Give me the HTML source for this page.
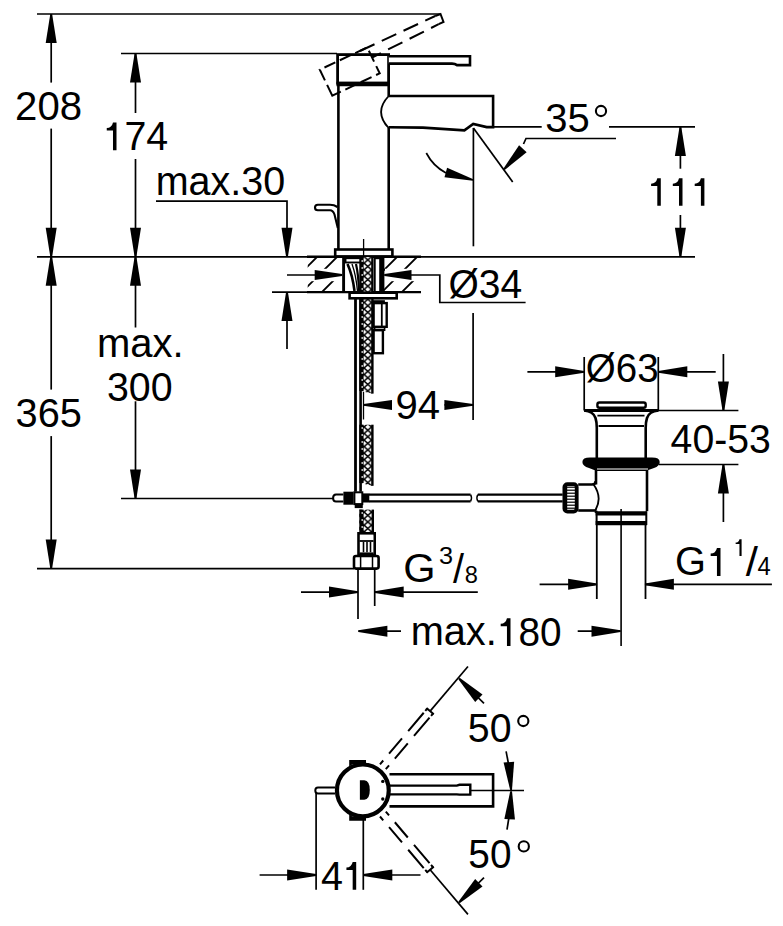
<!DOCTYPE html>
<html><head><meta charset="utf-8"><style>
html,body{margin:0;padding:0;background:#fff;}
svg{display:block;}
text{font-family:"Liberation Sans",sans-serif;fill:#000;stroke:none;}
</style></head><body>
<svg width="783" height="926" viewBox="0 0 783 926" stroke="#000" fill="none">
<defs>
<pattern id="braid" x="363.95" y="263.2" width="7.7" height="6.55" patternUnits="userSpaceOnUse">
<rect width="7.7" height="6.55" fill="#fff" stroke="none"/>
<path d="M-1,-0.85 L8.7,7.4 M8.7,-0.85 L-1,7.4" stroke="#000" stroke-width="1.6"/>
</pattern>
</defs>
<line x1="37" y1="14" x2="440" y2="14" stroke-width="1.7" />
<line x1="121" y1="53.5" x2="337" y2="53.5" stroke-width="1.7" />
<line x1="37" y1="256.8" x2="695" y2="256.8" stroke-width="1.7" />
<line x1="121" y1="498.5" x2="333" y2="498.5" stroke-width="1.7" />
<line x1="37" y1="568.6" x2="354" y2="568.6" stroke-width="1.7" />
<line x1="51.2" y1="14" x2="51.2" y2="82.6" stroke-width="1.7" />
<line x1="51.2" y1="128.6" x2="51.2" y2="256.8" stroke-width="1.7" />
<polygon points="52.1,14 56.7,43 45.7,43 50.3,14" fill="#000" stroke="none"/>
<polygon points="50.3,256.8 45.7,227.8 56.7,227.8 52.1,256.8" fill="#000" stroke="none"/>
<line x1="135.5" y1="53.5" x2="135.5" y2="113" stroke-width="1.7" />
<line x1="135.5" y1="159" x2="135.5" y2="256.8" stroke-width="1.7" />
<polygon points="136.4,53.5 141,82.5 130,82.5 134.6,53.5" fill="#000" stroke="none"/>
<polygon points="134.6,256.8 130,227.8 141,227.8 136.4,256.8" fill="#000" stroke="none"/>
<line x1="51.2" y1="256.8" x2="51.2" y2="389.6" stroke-width="1.7" />
<line x1="51.2" y1="436.1" x2="51.2" y2="568.6" stroke-width="1.7" />
<polygon points="52.1,256.8 56.7,285.8 45.7,285.8 50.3,256.8" fill="#000" stroke="none"/>
<polygon points="50.3,568.6 45.7,539.6 56.7,539.6 52.1,568.6" fill="#000" stroke="none"/>
<line x1="135.5" y1="256.8" x2="135.5" y2="327.5" stroke-width="1.7" />
<line x1="135.5" y1="401.3" x2="135.5" y2="498.5" stroke-width="1.7" />
<polygon points="136.4,256.8 141,285.8 130,285.8 134.6,256.8" fill="#000" stroke="none"/>
<polygon points="134.6,498.5 130,469.5 141,469.5 136.4,498.5" fill="#000" stroke="none"/>
<path d="M156,201.1 H287 V256.8" stroke-width="1.7" fill="none" />
<polygon points="286.1,256.8 281.5,227.8 292.5,227.8 287.9,256.8" fill="#000" stroke="none"/>
<line x1="272" y1="292.1" x2="307" y2="292.1" stroke-width="1.7" />
<line x1="287" y1="292.1" x2="287" y2="349" stroke-width="1.7" />
<polygon points="287.9,292.1 292.5,321.1 281.5,321.1 286.1,292.1" fill="#000" stroke="none"/>
<text x="15.08" y="119.62" font-size="40" textLength="66.96" lengthAdjust="spacingAndGlyphs">208</text>
<text x="124.38" y="150.21" font-size="40" textLength="43.77" lengthAdjust="spacingAndGlyphs">74</text>
<path d="M112.99,122.6 H116.5 V150.3 H112.99 V130.53 H106.76 V128.12 Q111.78,128.02 112.99,122.6 Z" fill="#000" stroke="none"/>
<text x="155.68" y="194.87" font-size="40" textLength="129.57" lengthAdjust="spacingAndGlyphs">max.30</text>
<text x="15.58" y="427.37" font-size="40" textLength="66.39" lengthAdjust="spacingAndGlyphs">365</text>
<text x="96.94" y="356.52" font-size="40" textLength="86.71" lengthAdjust="spacingAndGlyphs">max.</text>
<text x="107" y="401.02" font-size="40" textLength="65.63" lengthAdjust="spacingAndGlyphs">300</text>
<text x="545.18" y="132.12" font-size="40" textLength="44.5" lengthAdjust="spacingAndGlyphs">35</text>
<circle cx="601" cy="111" r="5.1" stroke-width="2.1" fill="none"/>
<line x1="493" y1="126.9" x2="541.7" y2="126.9" stroke-width="1.7" />
<line x1="609" y1="126.9" x2="695" y2="126.9" stroke-width="1.7" />
<path d="M657.3,178.2 H660.8 V205.8 H657.3 V186.1 H651.1 V183.7 Q656.1,183.6 657.3,178.2 Z" fill="#000" stroke="none"/>
<path d="M679,178.2 H682.5 V205.8 H679 V186.1 H672.8 V183.7 Q677.8,183.6 679,178.2 Z" fill="#000" stroke="none"/>
<path d="M700.9,178.2 H704.4 V205.8 H700.9 V186.1 H694.7 V183.7 Q699.7,183.6 700.9,178.2 Z" fill="#000" stroke="none"/>
<line x1="680.4" y1="126.9" x2="680.4" y2="168.7" stroke-width="1.7" />
<line x1="680.4" y1="215" x2="680.4" y2="256.8" stroke-width="1.7" />
<polygon points="681.3,126.9 685.9,155.9 674.9,155.9 679.5,126.9" fill="#000" stroke="none"/>
<polygon points="679.5,256.8 674.9,227.8 685.9,227.8 681.3,256.8" fill="#000" stroke="none"/>
<rect x="337.6" y="54.6" width="51" height="28.6" stroke-width="2.8" fill="none"/>
<line x1="336.5" y1="84" x2="389.8" y2="84" stroke-width="4.4" />
<path d="M388.8,56.3 H470 V65.1 H457 Q455,63.6 452,63.6 H388.8" stroke-width="2.6" fill="#fff" />
<g stroke-dasharray="12,5" fill="none" stroke-width="2">
<path d="M332.3,95.7 L319.8,69.7 L367.2,47.4 L379.7,73.3 Z" stroke-width="2" fill="none" />
<path d="M360,51 L435.2,16" stroke-width="2" stroke-dasharray="16,8"/>
<path d="M372,57.5 L438.7,24.2" stroke-width="2" stroke-dasharray="16,8" stroke-dashoffset="6"/>
</g>
<path d="M435.2,16 L440.5,14 L443.5,22 L438.7,24.2" stroke-width="2" fill="none" />
<line x1="338.4" y1="84" x2="338.4" y2="250" stroke-width="2.6" />
<line x1="388.7" y1="84" x2="388.7" y2="96" stroke-width="2.6" />
<line x1="388.7" y1="128" x2="388.7" y2="250" stroke-width="2.6" />
<path d="M388.7,96 H493.1 V127.1 H486.7 L473.2,123.9 L464.4,130.3 L422.9,127.6 L388.7,127.3" stroke-width="2.6" fill="none" />
<path d="M388.7,96 Q373.5,112 388.7,128" stroke-width="1.8" fill="none" />
<line x1="493" y1="126.9" x2="493" y2="127" stroke-width="1.7" />
<line x1="473.4" y1="128" x2="473.4" y2="246.3" stroke-width="1.7" />
<line x1="473.4" y1="128" x2="512.7" y2="182" stroke-width="1.7" />
<path d="M426.3,153 Q433,166 446,173" stroke-width="1.7" fill="none" />
<polygon points="472.86,180.87 444.51,177.23 447.11,167.78 473.34,179.13" fill="#000" stroke="none"/>
<path d="M616,138.5 H526 L523.5,144" stroke-width="1.7" fill="none" />
<polygon points="503.33,168.79 519.1,145.27 526.63,152.15 504.67,170.01" fill="#000" stroke="none"/>
<path d="M337.5,207 Q334,204.7 330,204.7 H317.8 A2.8,2.8 0 0 0 317.8,210.3 H330 Q333,210.3 334.5,214.5 L337.8,228" stroke-width="2.1" fill="none" />
<rect x="335.2" y="249.5" width="57.2" height="7" stroke-width="2.6" fill="none" />
<line x1="363.6" y1="239" x2="363.6" y2="257" stroke-width="1.3" />
<line x1="307" y1="256.8" x2="421" y2="256.8" stroke-width="2.4" />
<line x1="307" y1="292.1" x2="421" y2="292.1" stroke-width="2.4" />
<clipPath id="hl"><rect x="307.7" y="257" width="35.5" height="35"/></clipPath>
<clipPath id="hr"><rect x="384" y="257" width="37" height="35"/></clipPath>
<g clip-path="url(#hl)">
<line x1="274" y1="300" x2="324" y2="250" stroke-width="1.9" />
<line x1="294" y1="300" x2="344" y2="250" stroke-width="1.9" />
<line x1="314" y1="300" x2="364" y2="250" stroke-width="1.9" />
</g>
<g clip-path="url(#hr)">
<line x1="354" y1="300" x2="404" y2="250" stroke-width="1.9" />
<line x1="374" y1="300" x2="424" y2="250" stroke-width="1.9" />
<line x1="394" y1="300" x2="444" y2="250" stroke-width="1.9" />
</g>
<rect x="306" y="268.8" width="37" height="12.4" fill="#fff" stroke="none"/>
<rect x="385" y="268.8" width="36" height="12.4" fill="#fff" stroke="none"/>
<line x1="287" y1="275" x2="342.1" y2="275" stroke-width="1.7" />
<polygon points="342.1,275.9 314.7,280 314.7,270 342.1,274.1" fill="#000" stroke="none"/>
<path d="M384.4,275 H439.8 V302.5 H525.6" stroke-width="1.7" fill="none" />
<polygon points="384.4,274.1 411.5,270 411.5,280 384.4,275.9" fill="#000" stroke="none"/>
<text x="448.45" y="297.85" font-size="40" textLength="73.69" lengthAdjust="spacingAndGlyphs">Ø34</text>
<line x1="343.6" y1="257" x2="343.6" y2="292" stroke-width="2.9" />
<line x1="382.8" y1="257" x2="382.8" y2="292" stroke-width="3.2" />
<rect x="345.5" y="258.2" width="16" height="4.3" stroke-width="1.9" fill="none" />
<path d="M347.5,264 Q352.5,275 354.5,291" stroke-width="2.6" fill="none" />
<path d="M352,264 Q356,275 357.5,291" stroke-width="1.3" fill="none" />
<path d="M356,264 Q358.5,275 359,291" stroke-width="2.2" fill="none" />
<rect x="374.8" y="258.3" width="6.5" height="34" stroke-width="1.8" fill="none" />
<line x1="380.5" y1="258" x2="380.5" y2="292" stroke-width="2.6" />
<line x1="355.5" y1="299" x2="355.5" y2="491.7" stroke-width="2.8" />
<line x1="360.6" y1="299" x2="360.6" y2="491.7" stroke-width="2.6" />
<line x1="363.5" y1="391" x2="363.5" y2="419.5" stroke-width="1.3" />
<path d="M360,257 H372.4 V393.6 L360,391 Z" fill="url(#braid)" stroke="none"/>
<line x1="361.45" y1="257" x2="361.45" y2="391" stroke-width="4.3" />
<line x1="372.4" y1="257" x2="372.4" y2="393.6" stroke-width="2.4" />
<rect x="361.6" y="260" width="1.1" height="2" fill="#fff" stroke="none"/>
<rect x="361.6" y="267" width="1.1" height="2" fill="#fff" stroke="none"/>
<rect x="361.6" y="274" width="1.1" height="2" fill="#fff" stroke="none"/>
<rect x="361.6" y="281" width="1.1" height="2" fill="#fff" stroke="none"/>
<rect x="361.6" y="288" width="1.1" height="2" fill="#fff" stroke="none"/>
<rect x="361.6" y="295" width="1.1" height="2" fill="#fff" stroke="none"/>
<rect x="361.6" y="302" width="1.1" height="2" fill="#fff" stroke="none"/>
<rect x="361.6" y="309" width="1.1" height="2" fill="#fff" stroke="none"/>
<rect x="361.6" y="316" width="1.1" height="2" fill="#fff" stroke="none"/>
<rect x="361.6" y="323" width="1.1" height="2" fill="#fff" stroke="none"/>
<rect x="361.6" y="330" width="1.1" height="2" fill="#fff" stroke="none"/>
<rect x="361.6" y="337" width="1.1" height="2" fill="#fff" stroke="none"/>
<rect x="361.6" y="344" width="1.1" height="2" fill="#fff" stroke="none"/>
<rect x="361.6" y="351" width="1.1" height="2" fill="#fff" stroke="none"/>
<rect x="361.6" y="358" width="1.1" height="2" fill="#fff" stroke="none"/>
<rect x="361.6" y="365" width="1.1" height="2" fill="#fff" stroke="none"/>
<rect x="361.6" y="372" width="1.1" height="2" fill="#fff" stroke="none"/>
<rect x="361.6" y="379" width="1.1" height="2" fill="#fff" stroke="none"/>
<rect x="361.6" y="386" width="1.1" height="2" fill="#fff" stroke="none"/>
<path d="M360,424.7 H372.4 V485.8 L360,483 Z" fill="url(#braid)" stroke="none"/>
<line x1="361.45" y1="424.7" x2="361.45" y2="483" stroke-width="4.3" />
<line x1="372.4" y1="424.7" x2="372.4" y2="485.8" stroke-width="2.4" />
<rect x="361.6" y="427" width="1.1" height="2" fill="#fff" stroke="none"/>
<rect x="361.6" y="434" width="1.1" height="2" fill="#fff" stroke="none"/>
<rect x="361.6" y="441" width="1.1" height="2" fill="#fff" stroke="none"/>
<rect x="361.6" y="448" width="1.1" height="2" fill="#fff" stroke="none"/>
<rect x="361.6" y="455" width="1.1" height="2" fill="#fff" stroke="none"/>
<rect x="361.6" y="462" width="1.1" height="2" fill="#fff" stroke="none"/>
<rect x="361.6" y="469" width="1.1" height="2" fill="#fff" stroke="none"/>
<rect x="361.6" y="476" width="1.1" height="2" fill="#fff" stroke="none"/>
<path d="M359.3,509.6 H372.8 V533.3 L359.3,533.3 Z" fill="url(#braid)" stroke="none"/>
<line x1="361.45" y1="509.6" x2="361.45" y2="533.3" stroke-width="4.3" />
<line x1="372.8" y1="509.6" x2="372.8" y2="533.3" stroke-width="2.4" />
<rect x="361.6" y="512" width="1.1" height="2" fill="#fff" stroke="none"/>
<rect x="361.6" y="519" width="1.1" height="2" fill="#fff" stroke="none"/>
<rect x="361.6" y="526" width="1.1" height="2" fill="#fff" stroke="none"/>
<rect x="349.6" y="292.7" width="47.1" height="5.6" stroke-width="2.6" fill="#fff" />
<rect x="373.6" y="301.1" width="10.4" height="2" stroke-width="1.8" fill="none" />
<rect x="373.6" y="303.1" width="13.1" height="23.7" stroke-width="2.4" fill="none" />
<line x1="381.8" y1="303.1" x2="381.8" y2="326.8" stroke-width="1.8" />
<rect x="374.6" y="327.5" width="10" height="2.7" stroke-width="1.6" fill="none" />
<rect x="373.6" y="330.2" width="9.3" height="23" stroke-width="2.4" fill="none" />
<line x1="473.1" y1="313" x2="473.1" y2="420" stroke-width="1.7" />
<line x1="363.5" y1="404.9" x2="392" y2="404.9" stroke-width="1.7" />
<line x1="444.4" y1="404.9" x2="473.1" y2="404.9" stroke-width="1.7" />
<polygon points="363.5,404 392,399.9 392,409.9 363.5,405.8" fill="#000" stroke="none"/>
<polygon points="473.1,405.8 444.4,409.9 444.4,399.9 473.1,404" fill="#000" stroke="none"/>
<text x="395.42" y="419.32" font-size="40" textLength="44.55" lengthAdjust="spacingAndGlyphs">94</text>
<path d="M343.4,494.4 H336 Q333.1,494.4 333.1,498 Q333.1,501.5 336,501.5 H343.4" stroke-width="2.0" fill="none" />
<rect x="343.4" y="491.7" width="10.2" height="13" stroke-width="0" fill="#000" stroke="none"/>
<rect x="354.4" y="492.3" width="7.9" height="11.8" stroke-width="2.0" fill="none" />
<rect x="362.3" y="493.4" width="7" height="9.1" stroke-width="0" fill="#000" stroke="none"/>
<rect x="355.5" y="504.7" width="6.5" height="2.6" stroke-width="1.6" fill="#000" />
<line x1="369" y1="494.6" x2="470.6" y2="494.6" stroke-width="2.2" />
<line x1="369" y1="501.4" x2="470.6" y2="501.4" stroke-width="2.2" />
<line x1="477.8" y1="494.6" x2="562.7" y2="494.6" stroke-width="2.2" />
<line x1="477.8" y1="501.4" x2="562.7" y2="501.4" stroke-width="2.2" />
<path d="M470.6,494.6 Q472.5,498 470.6,501.4" stroke-width="1.4" fill="none" />
<path d="M477.8,494.6 Q475.9,498 477.8,501.4" stroke-width="1.4" fill="none" />
<rect x="358.5" y="533.3" width="16.2" height="21.7" stroke-width="2.6" fill="none" />
<rect x="360" y="535.5" width="13.2" height="4.9" stroke-width="0" fill="#fff" stroke="none"/>
<line x1="359.5" y1="541" x2="373.5" y2="541" stroke-width="1.8" />
<line x1="363.5" y1="542" x2="363.5" y2="552.2" stroke-width="1.6" />
<line x1="367" y1="542" x2="367" y2="552.2" stroke-width="1.6" />
<line x1="370.5" y1="542" x2="370.5" y2="552.2" stroke-width="1.6" />
<line x1="359.5" y1="553.5" x2="373.5" y2="553.5" stroke-width="2.2" />
<rect x="354" y="556" width="24.6" height="12.6" rx="2" stroke-width="2.6" fill="none"/>
<line x1="360.6" y1="556" x2="360.6" y2="568.6" stroke-width="1.5" />
<line x1="372.5" y1="556" x2="372.5" y2="568.6" stroke-width="1.5" />
<line x1="358" y1="568.6" x2="358" y2="619" stroke-width="1.7" />
<line x1="374.7" y1="568.6" x2="374.7" y2="606" stroke-width="1.7" />
<line x1="301" y1="592.1" x2="358" y2="592.1" stroke-width="1.7" />
<line x1="374.7" y1="592.1" x2="477.8" y2="592.1" stroke-width="1.7" />
<polygon points="358,593 329,597.6 329,586.6 358,591.2" fill="#000" stroke="none"/>
<polygon points="374.7,591.2 403.7,586.6 403.7,597.6 374.7,593" fill="#000" stroke="none"/>
<text x="403.21" y="582.32" font-size="40" textLength="32.29" lengthAdjust="spacingAndGlyphs">G</text>
<text x="439.04" y="563.78" font-size="24.5" textLength="14.08" lengthAdjust="spacingAndGlyphs">3</text>
<text x="453" y="583.45" font-size="40" textLength="11" lengthAdjust="spacingAndGlyphs">/</text>
<text x="464.67" y="582.74" font-size="23.5" textLength="13.16" lengthAdjust="spacingAndGlyphs">8</text>
<line x1="358.4" y1="631.2" x2="401" y2="631.2" stroke-width="1.7" />
<line x1="577.7" y1="631.2" x2="620.5" y2="631.2" stroke-width="1.7" />
<polygon points="358.4,630.3 387.4,625.7 387.4,636.7 358.4,632.1" fill="#000" stroke="none"/>
<polygon points="620.5,632.1 591.5,636.7 591.5,625.7 620.5,630.3" fill="#000" stroke="none"/>
<text x="410.66" y="645.12" font-size="40" textLength="86.06" lengthAdjust="spacingAndGlyphs">max.</text>
<text x="518.52" y="645.92" font-size="40" textLength="43.1" lengthAdjust="spacingAndGlyphs">80</text>
<path d="M506.96,618.2 H510.5 V646.1 H506.96 V626.19 H500.69 V623.76 Q505.75,623.66 506.96,618.2 Z" fill="#000" stroke="none"/>
<line x1="584.2" y1="357" x2="584.2" y2="410.5" stroke-width="1.7" />
<line x1="658.3" y1="357" x2="658.3" y2="410.5" stroke-width="1.7" />
<line x1="527.4" y1="371.8" x2="584.2" y2="371.8" stroke-width="1.7" />
<line x1="658.3" y1="371.8" x2="715.7" y2="371.8" stroke-width="1.7" />
<polygon points="584.2,372.7 555.2,377.3 555.2,366.3 584.2,370.9" fill="#000" stroke="none"/>
<polygon points="658.3,370.9 687.3,366.3 687.3,377.3 658.3,372.7" fill="#000" stroke="none"/>
<text x="585.76" y="382" font-size="40" textLength="72.83" lengthAdjust="spacingAndGlyphs">Ø63</text>
<line x1="658" y1="410.5" x2="738.4" y2="410.5" stroke-width="1.7" />
<line x1="659" y1="464.5" x2="738.4" y2="464.5" stroke-width="1.7" />
<line x1="723.4" y1="354" x2="723.4" y2="410.5" stroke-width="1.7" />
<polygon points="722.5,410.5 717.9,381.5 728.9,381.5 724.3,410.5" fill="#000" stroke="none"/>
<line x1="723.4" y1="464.5" x2="723.4" y2="522" stroke-width="1.7" />
<polygon points="724.3,464.5 728.9,493.5 717.9,493.5 722.5,464.5" fill="#000" stroke="none"/>
<text x="670.6" y="452.52" font-size="40" textLength="100.22" lengthAdjust="spacingAndGlyphs">40-53</text>
<rect x="597.4" y="402.5" width="48.3" height="5.3" rx="2" stroke-width="2.4" fill="none"/>
<line x1="584.2" y1="410.5" x2="658.3" y2="410.5" stroke-width="2.8" />
<path d="M584.2,410.5 Q593.5,411.5 595.5,418 Q596.8,422 596.8,428 V458" stroke-width="2.6" fill="none" />
<path d="M658.3,410.5 Q649,411.5 647,418 Q645.7,422 645.7,428 V458" stroke-width="2.6" fill="none" />
<line x1="597.4" y1="415.7" x2="644.5" y2="415.7" stroke-width="1.8" />
<line x1="598.6" y1="426" x2="644" y2="426" stroke-width="1.8" />
<path d="M590,457.6 H652 Q659.7,457.6 659.7,462 Q659.7,466 654,468 Q648,470 646,471 H597 Q594,470 589,468 Q582.4,466 582.4,462 Q582.4,457.6 590,457.6 Z" stroke-width="0" fill="#000" stroke="none"/>
<line x1="597" y1="469" x2="648" y2="469" stroke-width="1" stroke="#fff"/>
<line x1="596" y1="470" x2="596" y2="484.5" stroke-width="2.6" />
<line x1="596" y1="510.5" x2="596" y2="513" stroke-width="2.6" />
<line x1="647" y1="470" x2="647" y2="511.2" stroke-width="2.6" />
<path d="M578.2,484.5 H592 Q595.7,484.5 595.7,481" stroke-width="2.6" fill="none" />
<path d="M593.6,484.5 Q603,497.8 595,511" stroke-width="1.8" fill="none" />
<path d="M578.2,510.5 H595" stroke-width="2.6" fill="none" />
<rect x="564.4" y="484.1" width="12.3" height="27.5" rx="3" stroke-width="3.8" fill="#fff"/>
<line x1="566.5" y1="487.2" x2="575" y2="487.2" stroke-width="1.2" />
<line x1="566.5" y1="490.2" x2="575" y2="490.2" stroke-width="1.2" />
<line x1="566.5" y1="493.2" x2="575" y2="493.2" stroke-width="1.2" />
<line x1="566.5" y1="496.2" x2="575" y2="496.2" stroke-width="1.2" />
<line x1="566.5" y1="499.2" x2="575" y2="499.2" stroke-width="1.2" />
<line x1="566.5" y1="502.2" x2="575" y2="502.2" stroke-width="1.2" />
<line x1="566.5" y1="505.2" x2="575" y2="505.2" stroke-width="1.2" />
<line x1="566.5" y1="508.2" x2="575" y2="508.2" stroke-width="1.2" />
<line x1="566.5" y1="486" x2="566.5" y2="510" stroke-width="1.4" />
<line x1="595.7" y1="513.3" x2="647" y2="513.3" stroke-width="4.2" />
<line x1="595.7" y1="523.1" x2="647" y2="523.1" stroke-width="4.2" />
<line x1="596.6" y1="511.5" x2="596.6" y2="525" stroke-width="2" />
<line x1="646.3" y1="511.5" x2="646.3" y2="525" stroke-width="2" />
<line x1="596.8" y1="525" x2="596.8" y2="599" stroke-width="1.8" />
<line x1="645.5" y1="525" x2="645.5" y2="599" stroke-width="1.8" />
<line x1="621.1" y1="509" x2="621.1" y2="646" stroke-width="1.6" />
<line x1="539.6" y1="584.3" x2="595.4" y2="584.3" stroke-width="1.7" />
<line x1="646" y1="584.3" x2="771.9" y2="584.3" stroke-width="1.7" />
<polygon points="597.1,585.2 568.1,589.8 568.1,578.8 597.1,583.4" fill="#000" stroke="none"/>
<polygon points="644.9,583.4 673.9,578.8 673.9,589.8 644.9,585.2" fill="#000" stroke="none"/>
<text x="674.9" y="575.02" font-size="40" textLength="30.98" lengthAdjust="spacingAndGlyphs">G</text>
<path d="M716.95,548 H720.5 V576 H716.95 V556.01 H710.66 V553.58 Q715.73,553.48 716.95,548 Z" fill="#000" stroke="none"/>
<path d="M739.46,539.2 H741.6 V556.1 H739.46 V544.04 H735.66 V542.57 Q738.72,542.51 739.46,539.2 Z" fill="#000" stroke="none"/>
<text x="745.8" y="575.75" font-size="40" textLength="12.2" lengthAdjust="spacingAndGlyphs">/</text>
<text x="757.45" y="575.4" font-size="25" textLength="13.24" lengthAdjust="spacingAndGlyphs">4</text>
<circle cx="362.85" cy="790.4" r="25.9" stroke-width="4.2" fill="#fff"/>
<polygon points="349.2,760 366,760 366,764.2 352,764.6 349.2,767" fill="#000" stroke="none"/>
<polygon points="349.2,820.8 366,820.8 366,816.6 352,816.2 349.2,813.8" fill="#000" stroke="none"/>
<path d="M359.9,780.2 H364.3 Q369.8,780.6 369.8,790 Q369.8,799.4 364.3,799.8 H359.9 Z" stroke-width="0" fill="#000" stroke="none"/>
<circle cx="382.8" cy="781.4" r="1.7" fill="#000" stroke="none"/>
<circle cx="382.8" cy="799" r="1.7" fill="#000" stroke="none"/>
<path d="M389.5,774.3 H493.1 V806.4 H389.5" stroke-width="2.6" fill="none" />
<path d="M390,785.6 H456.8 L459.5,784.8 H470.3 V794.6 H459.5 L456.8,794.4 H390" stroke-width="2.4" fill="none" />
<line x1="470.3" y1="790.5" x2="524" y2="790.5" stroke-width="1.6" />
<path d="M335,787.5 H318 Q315.3,787.5 315.3,790.5 Q315.3,793.6 318,793.6 H335" stroke-width="2.0" fill="none" />
<line x1="316.1" y1="793" x2="316.1" y2="889.8" stroke-width="1.7" />
<line x1="363.3" y1="820" x2="363.3" y2="889.8" stroke-width="1.7" />
<line x1="259.6" y1="875" x2="316.1" y2="875" stroke-width="1.7" />
<line x1="363.3" y1="875" x2="420.5" y2="875" stroke-width="1.7" />
<polygon points="316.1,875.9 287.1,880.5 287.1,869.5 316.1,874.1" fill="#000" stroke="none"/>
<polygon points="363.3,874.1 392.3,869.5 392.3,880.5 363.3,875.9" fill="#000" stroke="none"/>
<text x="321.09" y="889.66" font-size="40" textLength="21.96" lengthAdjust="spacingAndGlyphs">4</text>
<path d="M352.67,862 H356.2 V889.8 H352.67 V869.96 H346.43 V867.54 Q351.47,867.44 352.67,862 Z" fill="#000" stroke="none"/>
<path d="M380,764.3 L427.22,708.62" stroke-width="2" stroke-dasharray="5,9,20,9.6,24,4,30"/>
<path d="M385.8,769.22 L433.01,713.54" stroke-width="2" stroke-dasharray="5,9,20,9.6,24,4,30"/>
<path d="M431.07,715.83 L433.01,713.54 L427.22,708.62 L425.28,710.91" stroke-width="2" fill="none" />
<line x1="430.12" y1="711.08" x2="467.95" y2="666.47" stroke-width="1.7" />
<path d="M385.8,811.58 L433.01,867.26" stroke-width="2" stroke-dasharray="5,9,20,9.6,24,4,30"/>
<path d="M380,816.5 L427.22,872.18" stroke-width="2" stroke-dasharray="5,9,20,9.6,24,4,30"/>
<path d="M425.28,869.89 L427.22,872.18 L433.01,867.26 L431.07,864.97" stroke-width="2" fill="none" />
<line x1="430.12" y1="869.72" x2="467.95" y2="914.33" stroke-width="1.7" />
<polygon points="459.64,677.86 482.51,694.57 475.17,701.94 458.36,679.14" fill="#000" stroke="none"/>
<line x1="484" y1="703.4" x2="476" y2="695.5" stroke-width="1.7" />
<polygon points="458.36,901.86 475.17,879.06 482.51,886.43 459.64,903.14" fill="#000" stroke="none"/>
<line x1="484" y1="877.6" x2="476" y2="885.5" stroke-width="1.7" />
<polygon points="510.2,790.07 503.58,762.51 514.14,761.67 512,789.93" fill="#000" stroke="none"/>
<line x1="506.1" y1="751.3" x2="508.5" y2="764" stroke-width="1.7" />
<polygon points="512,791.35 514.95,819.54 504.36,818.99 510.2,791.25" fill="#000" stroke="none"/>
<line x1="507" y1="829.6" x2="509" y2="817" stroke-width="1.7" />
<text x="467.83" y="742.17" font-size="40" textLength="43.71" lengthAdjust="spacingAndGlyphs">50</text>
<circle cx="523.3" cy="721" r="5.1" stroke-width="2.1" fill="none"/>
<text x="468.35" y="867.92" font-size="40" textLength="43.17" lengthAdjust="spacingAndGlyphs">50</text>
<circle cx="523.8" cy="846.4" r="5.1" stroke-width="2.1" fill="none"/>
</svg>
</body></html>
